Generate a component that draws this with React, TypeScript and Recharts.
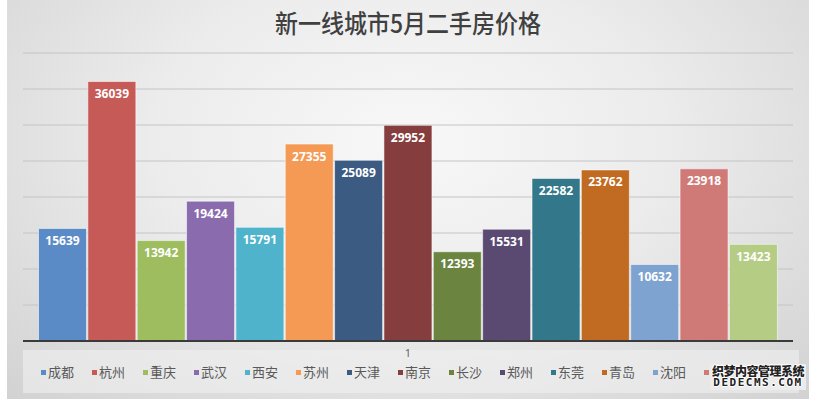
import React from "react";
import { Bar, BarChart, CartesianGrid, LabelList, XAxis, YAxis } from "recharts";

const cities = ["成都", "杭州", "重庆", "武汉", "西安", "苏州", "天津", "南京", "长沙", "郑州", "东莞", "青岛", "沈阳", "宁波", "大连"];
const prices = [15639, 36039, 13942, 19424, 15791, 27355, 25089, 29952, 12393, 15531, 22582, 23762, 10632, 23918, 13423];
const colors = [
  "#5b8bc7", "#c65a57", "#9dbd5e", "#8a6cae", "#4fb3cb",
  "#f59a55", "#3b5b82", "#853d3e", "#6b8440", "#5a4a72",
  "#33788a", "#c06a22", "#7ea3d0", "#d07a78", "#b4cc84",
];
const category = "1";
const yTicks = [0, 5000, 10000, 15000, 20000, 25000, 30000, 35000, 40000];

const row: Record<string, string | number> = { name: category };
cities.forEach((c, i) => {
  row[c] = prices[i];
});
const data = [row];

function LegendBox() {
  return (
    <div
      style={{
        position: "absolute",
        left: 41,
        top: 363,
        display: "flex",
        fontFamily: "'Noto Sans CJK SC', sans-serif",
        fontSize: 13,
        lineHeight: "18px",
        color: "#595959",
      }}
    >
      {cities.map((c, i) => (
        <div key={c} style={{ width: 51, display: "flex", alignItems: "center" }}>
          <span style={{ width: 5, height: 5, background: colors[i], marginRight: 2, display: "inline-block" }} />
          <span>{c}</span>
        </div>
      ))}
    </div>
  );
}

export default function App() {
  return (
    <div style={{ position: "absolute", left: 0, top: 0, width: 816, height: 399, background: "#fff", overflow: "hidden" }}>
      <div
        style={{
          position: "absolute",
          left: 7,
          top: 0,
          width: 802,
          height: 399,
          background: "radial-gradient(ellipse at 50% 35%, #f8f8f8 0%, #ececec 45%, #d2d2d2 100%)",
        }}
      />
      <div
        style={{
          position: "absolute",
          left: 23,
          top: 350,
          width: 776,
          height: 43,
          background: "rgba(240,240,240,0.6)",
        }}
      />
      <div
        style={{
          position: "absolute",
          left: 0,
          top: 7,
          width: 816,
          textAlign: "center",
          fontFamily: "'Noto Sans CJK SC', sans-serif",
          fontSize: 23,
          fontWeight: 500,
          color: "#404040",
          lineHeight: "30px",
          transform: "scaleY(1.1)",
        }}
      >
        新一线城市5月二手房价格
      </div>
      <div style={{ position: "absolute", left: 0, top: 0 }}>
        <BarChart
          width={816}
          height={399}
          data={data}
          margin={{ top: 53, right: 23, left: 23, bottom: 38 }}
          barCategoryGap={15.5}
          barGap={1.35}
        >
          <CartesianGrid vertical={false} stroke="#c4c4c4" strokeWidth={1} />
          <YAxis hide domain={[0, 40000]} ticks={yTicks} />
          <XAxis
            dataKey="name"
            height={20}
            axisLine={{ stroke: "#3a3a3a", strokeWidth: 2 }}
            tickLine={false}
            tick={{ fontSize: 11, fill: "#666", fontFamily: "'Noto Sans', sans-serif" }}
            tickMargin={2}
          />
          {cities.map((c, i) => (
            <Bar
              key={c}
              dataKey={c}
              fill={colors[i]}
              stroke="#ffffff"
              strokeOpacity={0.55}
              strokeWidth={1}
              isAnimationActive={false}
            >
              <LabelList
                dataKey={c}
                position="insideTop"
                offset={8}
                fill="#ffffff"
                fontSize={12}
                fontWeight={700}
                fontFamily="'Noto Sans', sans-serif"
              />
            </Bar>
          ))}
        </BarChart>
      </div>
      <LegendBox />
      <div
        style={{
          position: "absolute",
          left: 710,
          top: 364,
          width: 96,
          padding: "1px 0",
          background: "rgba(236,236,236,0.95)",
          fontFamily: "'Noto Sans CJK SC', sans-serif",
          fontWeight: 900,
          color: "#222",
          textShadow: "1px 0 #fff, -1px 0 #fff, 0 1px #fff, 0 -1px #fff",
          lineHeight: "12px",
          textAlign: "center",
        }}
      >
        <div style={{ fontSize: 12, letterSpacing: -0.5 }}>织梦内容管理系统</div>
        <div style={{ fontSize: 11, letterSpacing: 1.5, fontFamily: "'DejaVu Sans Mono', monospace" }}>DEDECMS.COM</div>
      </div>
    </div>
  );
}
